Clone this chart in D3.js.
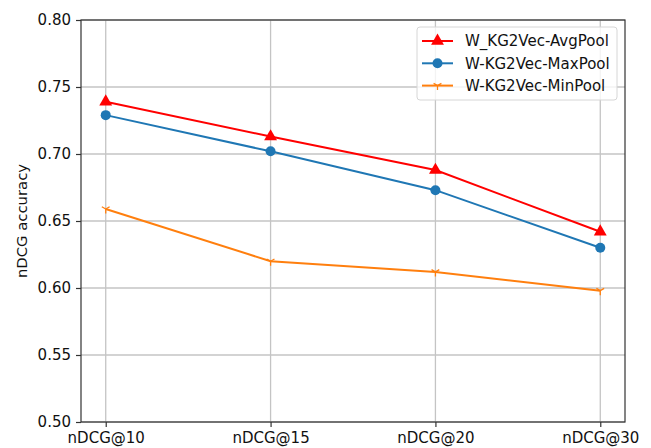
<!DOCTYPE html>
<html>
<head>
<meta charset="utf-8">
<script src="https://cdn.jsdelivr.net/npm/d3@7"></script>
<style>
  html, body { margin: 0; padding: 0; background: #fff; }
  svg { display: block; font-family: "DejaVu Sans", sans-serif; }
</style>
</head>
<body>
<svg id="chart" width="651" height="448"></svg>
<script>
const categories = ["nDCG@10", "nDCG@15", "nDCG@20", "nDCG@30"];
const avgPool = [0.739, 0.713, 0.688, 0.642];
const maxPool = [0.729, 0.702, 0.673, 0.630];
const minPool = [0.659, 0.620, 0.612, 0.598];
const yTicks = [0.50, 0.55, 0.60, 0.65, 0.70, 0.75, 0.80];
const seriesNames = ["W_KG2Vec-AvgPool", "W-KG2Vec-MaxPool", "W-KG2Vec-MinPool"];

const series = [
  { name: seriesNames[0], values: avgPool, color: "#ff0000", marker: "triangle" },
  { name: seriesNames[1], values: maxPool, color: "#1f77b4", marker: "circle" },
  { name: seriesNames[2], values: minPool, color: "#ff7f0e", marker: "tri" }
];

const svg = d3.select("#chart");
const m = { left: 81, right: 625, top: 20, bottom: 422 };

const x = d3.scaleLinear().domain([-0.15, categories.length - 1 + 0.15]).range([m.left, m.right]);
const y = d3.scaleLinear().domain([0.50, 0.80]).range([m.bottom, m.top]);

// grid
const g = svg.append("g");
g.selectAll(".vg").data(categories).join("line")
  .attr("x1", (d, i) => x(i)).attr("x2", (d, i) => x(i))
  .attr("y1", m.top).attr("y2", m.bottom)
  .attr("stroke", "#c4c4c4").attr("stroke-width", 1.3);
g.selectAll(".hg").data(yTicks).join("line")
  .attr("x1", m.left).attr("x2", m.right)
  .attr("y1", d => y(d)).attr("y2", d => y(d))
  .attr("stroke", "#c4c4c4").attr("stroke-width", 1.3);

// axes
const xAxis = d3.axisBottom(x).tickValues(d3.range(categories.length))
  .tickFormat(i => categories[i]).tickSize(5).tickPadding(5);
const yAxis = d3.axisLeft(y).tickValues(yTicks)
  .tickFormat(d3.format(".2f")).tickSize(5).tickPadding(5);

const gx = svg.append("g").attr("transform", `translate(0,${m.bottom})`).call(xAxis);
const gy = svg.append("g").attr("transform", `translate(${m.left},0)`).call(yAxis);
[gx, gy].forEach(a => {
  a.select(".domain").remove();
  a.selectAll(".tick line").attr("stroke", "#333").attr("stroke-width", 1.2);
  a.selectAll(".tick text").attr("fill", "#111").style("font-size", "15px").style("font-family", "DejaVu Sans");
});

// spines
svg.append("rect").attr("x", m.left).attr("y", m.top)
  .attr("width", m.right - m.left).attr("height", m.bottom - m.top)
  .attr("fill", "none").attr("stroke", "#333").attr("stroke-width", 1.2);

// y label
svg.append("text")
  .attr("transform", `translate(27,${(m.top + m.bottom) / 2}) rotate(-90)`)
  .attr("text-anchor", "middle")
  .style("font-size", "14.8px").attr("fill", "#111")
  .text("nDCG accuracy");

function drawMarker(sel, type, color) {
  if (type === "circle") {
    sel.append("circle").attr("r", 5).attr("fill", color);
  } else if (type === "triangle") {
    sel.append("path").attr("d", d3.symbol().type(d3.symbolTriangle).size(72)()).attr("fill", color);
  } else {
    sel.append("path").attr("d", "M0,0 L0,4.5 M0,0 L-3.9,-2.25 M0,0 L3.9,-2.25")
      .attr("stroke", color).attr("stroke-width", 1.3).attr("fill", "none");
  }
}

const line = d3.line().x((d, i) => x(i)).y(d => y(d));
series.forEach(s => {
  svg.append("path").datum(s.values).attr("d", line)
    .attr("fill", "none").attr("stroke", s.color).attr("stroke-width", 2);
  s.values.forEach((v, i) => {
    const mg = svg.append("g").attr("transform", `translate(${x(i)},${y(v)})`);
    drawMarker(mg, s.marker, s.color);
  });
});

// legend
const lg = svg.append("g");
lg.append("rect").attr("x", 417).attr("y", 27).attr("width", 200).attr("height", 73)
  .attr("rx", 3).attr("fill", "#fff").attr("fill-opacity", 0.8)
  .attr("stroke", "#d6d6d6").attr("stroke-width", 1);
series.forEach((s, i) => {
  const cy = 41 + i * 22.3;
  lg.append("line").attr("x1", 422).attr("x2", 453).attr("y1", cy).attr("y2", cy)
    .attr("stroke", s.color).attr("stroke-width", 2);
  const mg = lg.append("g").attr("transform", `translate(437.5,${cy})`);
  drawMarker(mg, s.marker, s.color);
  lg.append("text").attr("x", 465).attr("y", cy).attr("dy", "0.36em")
    .style("font-size", "15px").attr("fill", "#111").text(s.name);
});
</script>
</body>
</html>
